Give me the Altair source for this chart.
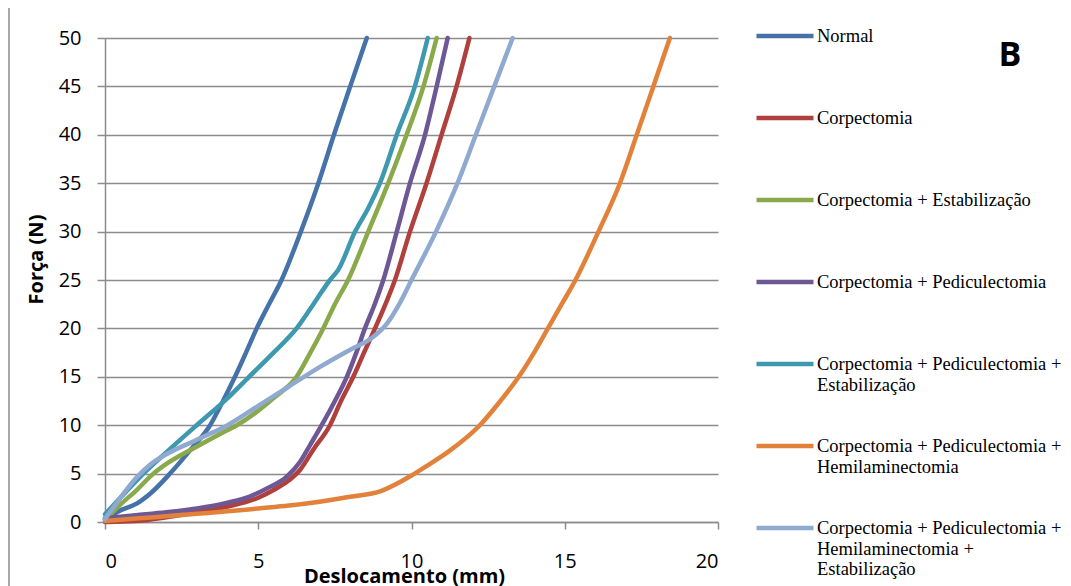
import altair as alt
import pandas as pd

# ---- data ----
series_names = [
    "Normal",
    "Corpectomia",
    "Corpectomia + Estabilização",
    "Corpectomia + Pediculectomia",
    "Corpectomia + Pediculectomia +|Estabilização",
    "Corpectomia + Pediculectomia +|Hemilaminectomia",
    "Corpectomia + Pediculectomia +|Hemilaminectomia +|Estabilização",
]
series_colors = ["#4573A9", "#B0403D", "#89A94A", "#6E5795", "#3E98AF", "#E2823A", "#8FA9D0"]

normal_x = [0, 0.5, 1.03, 1.5, 2.12, 2.8, 3.43, 3.85, 4.24, 4.6, 4.95, 5.35, 5.76, 6.39, 6.96, 7.47, 8.0, 8.54]
normal_y = [0.3, 1.2, 1.9, 3, 5, 7.5, 10, 12.5, 15, 17.5, 20, 22.5, 25, 30, 35, 40, 45, 50]

corp_x = [0, 1, 2, 3, 4, 5, 5.5, 6, 6.36, 6.8, 7.34, 7.7, 8.1, 8.45, 8.81, 9.15, 9.46, 9.95, 10.49, 10.98, 11.47, 11.89]
corp_y = [0, 0.1, 0.5, 1.0, 1.6, 2.5, 3.3, 4.3, 5.37, 7.5, 10, 12.5, 15, 17.5, 20, 22.5, 25, 30, 35, 40, 45, 50]

estab_x = [0, 0.5, 1, 1.58, 2, 3, 4, 4.3, 5, 5.5, 6.25, 6.7, 7.12, 7.5, 7.93, 8.59, 9.24, 9.84, 10.39, 10.82]
estab_y = [0.2, 1.8, 3.2, 5, 6, 7.8, 9.5, 10, 11.5, 12.8, 15, 17.5, 20, 22.5, 25, 30, 35, 40, 45, 50]

pedic_x = [0, 1, 2, 3, 4, 4.7, 5.3, 5.9, 6.36, 6.7, 7.07, 7.5, 7.89, 8.2, 8.48, 8.8, 9.08, 9.52, 9.95, 10.44, 10.82, 11.18]
pedic_y = [0.4, 0.7, 1.0, 1.4, 2.0, 2.6, 3.5, 4.6, 6.2, 8, 10, 12.5, 15, 17.5, 20, 22.5, 25, 30, 35, 40, 45, 50]

pe_x = [0, 0.5, 1.25, 2, 2.99, 4, 4.7, 5.5, 6.25, 6.8, 7.34, 7.6, 8.16, 8.6, 8.97, 9.52, 10.11, 10.53]
pe_y = [0.8, 2.5, 5, 7.2, 10, 12.8, 15, 17.5, 20, 22.5, 25, 26, 30, 32.5, 35, 40, 45, 50]

ph_x = [0, 1, 2, 3, 4, 5, 6, 7, 8, 9, 10, 10.5, 11.26, 12.23, 12.9, 13.5, 14, 14.45, 14.9, 15.35, 16.1, 16.8, 17.35, 17.89, 18.43]
ph_y = [0.1, 0.35, 0.6, 0.85, 1.1, 1.4, 1.7, 2.1, 2.6, 3.2, 4.8, 5.8, 7.4, 10, 12.5, 15, 17.5, 20, 22.5, 25, 30, 35, 40, 45, 50]

phe_x = [0, 0.5, 1, 1.5, 2, 3, 4, 5, 6, 7, 8, 8.7, 9.2, 9.6, 10, 10.8, 11.5, 12.1, 12.7, 13.3]
phe_y = [0.3, 2.5, 4.5, 6, 7, 8.5, 10, 12, 14, 16, 17.8, 19, 20.5, 22.5, 25, 30, 35, 40, 45, 50]

xs = [normal_x, corp_x, estab_x, pedic_x, pe_x, ph_x, phe_x]
ys = [normal_y, corp_y, estab_y, pedic_y, pe_y, ph_y, phe_y]

x_ticks = [0, 5, 10, 15, 20]
y_ticks = [0, 5, 10, 15, 20, 25, 30, 35, 40, 45, 50]

rows = []
for k, (name, sx, sy) in enumerate(zip(series_names, xs, ys)):
    for i, (a, b) in enumerate(zip(sx, sy)):
        rows.append({"serie": name, "x": a, "y": b, "i": i, "k": k})
df = pd.DataFrame(rows)

AXIS_FONT = "Open Sans"
GRID = "#8C8C8C"

lines = alt.Chart(df).mark_line(strokeWidth=4.5, strokeCap="round", strokeJoin="round",
                                interpolate="monotone").encode(
    x=alt.X("x:Q", scale=alt.Scale(domain=[0, 20], nice=False),
            axis=alt.Axis(values=x_ticks, title="Deslocamento (mm)", grid=False,
                          labelFontSize=20, labelFont=AXIS_FONT, labelColor="black",
                          labelPadding=22, tickSize=7, titleFont=AXIS_FONT,
                          titleFontSize=20, titleFontWeight="bold", titleColor="black",
                          titleX=299, titleY=54, titleBaseline="middle")),
    y=alt.Y("y:Q", scale=alt.Scale(domain=[0, 50], nice=False),
            axis=alt.Axis(values=y_ticks, title="Força (N)", grid=True,
                          labelFontSize=20, labelFont=AXIS_FONT, labelColor="black",
                          labelPadding=16, tickSize=8, titleFont=AXIS_FONT,
                          titleFontSize=20, titleFontWeight="bold", titleColor="black",
                          titleX=-69, titleY=221, titleAngle=270, titleBaseline="middle",
                          titleAlign="center")),
    color=alt.Color("serie:N", sort=series_names,
                    scale=alt.Scale(domain=series_names, range=series_colors),
                    legend=alt.Legend(orient="none", legendX=662.5, legendY=-28.5, title=None,
                                      labelFont="Liberation Serif", labelFontSize=18.5,
                                      labelColor="black", labelLimit=400,
                                      labelBaseline="top",
                                      labelOffset=14.5, labelExpr="split(datum.label, '|')",
                                      symbolType="M-1.9,0.6H1.9", symbolSize=900,
                                      symbolStrokeWidth=4.5, rowPadding=5,
                                      gridAlign="all", padding=0)),
    order=alt.Order("i:Q"),
)

letter = alt.Chart(pd.DataFrame({"t": ["B"]})).mark_text(
    font=AXIS_FONT, fontSize=34, fontWeight="bold", color="black", align="center", baseline="middle"
).encode(text="t:N", x=alt.value(905), y=alt.value(18))

border = alt.Chart(pd.DataFrame({"p": [-96, 961]})).mark_rule(color="#8C8C8C", strokeWidth=1.5).encode(
    x=alt.X("p:Q", scale=None), y=alt.value(-40), y2=alt.value(560)
)

chart = alt.layer(lines, letter, border).properties(
    width=613, height=484,
    autosize=alt.AutoSizeParams(type="none"),
    padding={"left": 97, "top": 30, "right": 345, "bottom": 64},
).configure_view(stroke=None).configure_axis(
    domainColor=GRID, domainWidth=1.5, tickColor=GRID, tickWidth=1.5,
    gridColor=GRID, gridWidth=1.5,
)

chart.save("out.html", embed_options={"renderer": "svg", "actions": False})
